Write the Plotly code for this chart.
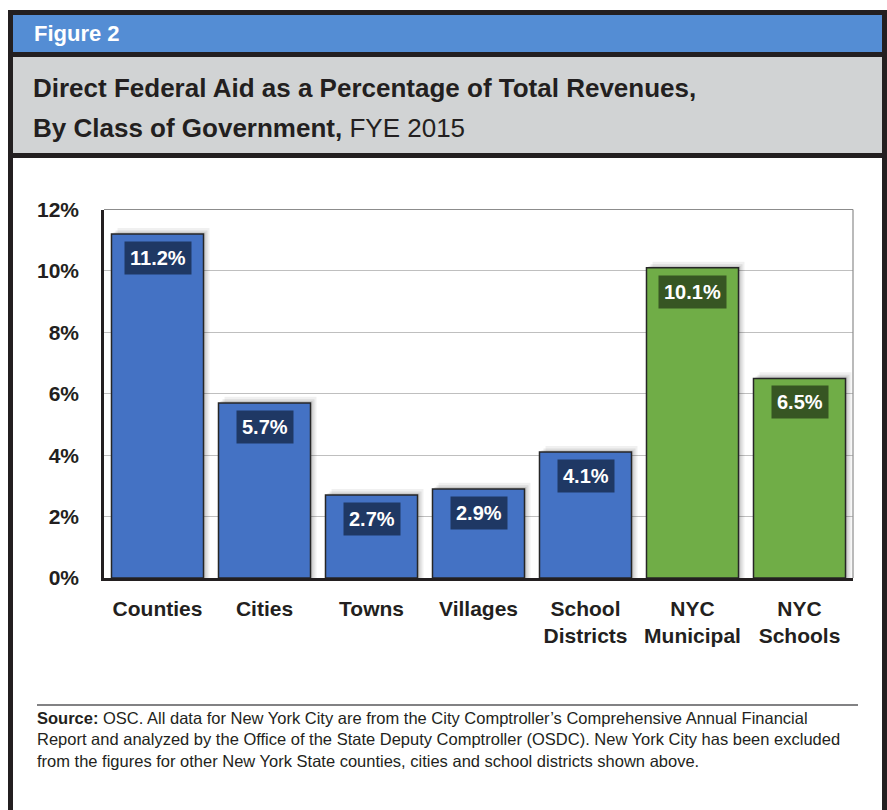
import plotly.graph_objects as go

W, H = 887, 810

categories = ["Counties", "Cities", "Towns", "Villages", "School<br>Districts", "NYC<br>Municipal", "NYC<br>Schools"]
values = [11.2, 5.7, 2.7, 2.9, 4.1, 10.1, 6.5]
groups = ["state", "state", "state", "state", "state", "nyc", "nyc"]
y_ticks = [0, 2, 4, 6, 8, 10, 12]

BAR_COLORS = {"state": "#4472C4", "nyc": "#70AD47"}
LABEL_BG = {"state": "#1F3864", "nyc": "#375623"}
TXT = "#231F20"
NARROW = "Liberation Sans Narrow, Arial Narrow, Liberation Sans, Arial, sans-serif"
SANS = "Liberation Sans, Arial, Helvetica, sans-serif"


def px(x):
    return x / W


def py(y):
    return 1 - y / H


x_idx = list(range(len(categories)))
bar_w = 0.86

fig = go.Figure()

# soft shadows behind bars
for dx, dy, a in [(6, 0.2, 0.06), (4, 0.12, 0.08), (2, 0.06, 0.10)]:
    fig.add_trace(go.Bar(
        x=x_idx, y=[v + dy for v in values], width=bar_w, offset=-bar_w / 2 + dx / 107,
        marker=dict(color=f"rgba(0,0,0,{a})", line=dict(width=0)),
        hoverinfo="skip", showlegend=False,
    ))

fig.add_trace(go.Bar(
    x=x_idx, y=values, width=bar_w, offset=-bar_w / 2,
    marker=dict(color=[BAR_COLORS[g] for g in groups], line=dict(color="#262626", width=1.5)),
    showlegend=False,
))

annotations = []
for i, (v, g) in enumerate(zip(values, groups)):
    annotations.append(dict(
        x=i, y=v, xref="x", yref="y", yanchor="top", yshift=-7,
        text=f"<b>{v:.1f}%</b>", showarrow=False,
        font=dict(family=NARROW, size=20, color="white"),
        bgcolor=LABEL_BG[g], borderpad=5,
    ))

# header texts
annotations.append(dict(
    x=px(32), y=py(34), xref="paper", yref="paper", xanchor="left", yanchor="middle",
    text="<b>Figure 2</b>", showarrow=False,
    font=dict(family=NARROW, size=22, color="white"),
))
annotations.append(dict(
    x=px(31), y=py(88), xref="paper", yref="paper", xanchor="left", yanchor="middle",
    text="<b>Direct Federal Aid as a Percentage of Total Revenues,</b>", showarrow=False,
    font=dict(family=NARROW, size=26, color=TXT),
))
annotations.append(dict(
    x=px(31), y=py(128), xref="paper", yref="paper", xanchor="left", yanchor="middle",
    text="<b>By Class of Government,</b> FYE 2015", showarrow=False,
    font=dict(family=NARROW, size=26, color=TXT),
))

# source note
annotations.append(dict(
    x=px(35), y=py(707), xref="paper", yref="paper", xanchor="left", yanchor="top",
    align="left",
    text=("<b>Source:</b> OSC. All data for New York City are from the City Comptroller\u2019s Comprehensive Annual Financial<br>"
          "Report and analyzed by the Office of the State Deputy Comptroller (OSDC). New York City has been excluded<br>"
          "from the figures for other New York State counties, cities and school districts shown above."),
    showarrow=False,
    font=dict(family=SANS, size=16.5, color=TXT),
))

shapes = [
    # outer black frame (open bottom)
    dict(type="rect", xref="paper", yref="paper", x0=px(8), x1=px(887), y0=py(830), y1=py(10),
         fillcolor=TXT, line=dict(width=0), layer="below"),
    dict(type="rect", xref="paper", yref="paper", x0=px(13), x1=px(882), y0=py(830), y1=py(158),
         fillcolor="white", line=dict(width=0), layer="below"),
    # blue header band
    dict(type="rect", xref="paper", yref="paper", x0=px(13), x1=px(882), y0=py(52), y1=py(15),
         fillcolor="#548DD4", line=dict(width=0), layer="below"),
    # gray title band
    dict(type="rect", xref="paper", yref="paper", x0=px(13), x1=px(882), y0=py(153), y1=py(57),
         fillcolor="#D1D3D4", line=dict(width=0), layer="below"),
    # plot frame top & right (gray)
    dict(type="line", xref="paper", yref="paper", x0=px(104), x1=px(853), y0=py(209.5), y1=py(209.5),
         line=dict(color="#8C8C8C", width=1.2)),
    dict(type="line", xref="paper", yref="paper", x0=px(853), x1=px(853), y0=py(209.5), y1=py(578),
         line=dict(color="#8C8C8C", width=1.2)),
    # source rule
    dict(type="line", xref="paper", yref="paper", x0=px(37), x1=px(858), y0=py(705), y1=py(705),
         line=dict(color="#58595B", width=1.5)),
]

fig.update_layout(
    template="none",
    width=W, height=H,
    margin=dict(l=0, r=0, t=0, b=0, pad=0),
    paper_bgcolor="white", plot_bgcolor="rgba(0,0,0,0)",
    barmode="overlay",
    shapes=shapes, annotations=annotations,
    xaxis=dict(
        domain=[px(104), px(853)], range=[-0.5, len(categories) - 0.5], automargin=False,
        tickmode="array", tickvals=x_idx, ticktext=categories,
        tickfont=dict(family=NARROW, size=21, color=TXT, weight="bold"),
        ticks="outside", ticklen=10, tickcolor="rgba(0,0,0,0)",
        showline=True, linecolor=TXT, linewidth=2.5, showgrid=False, zeroline=False,
        fixedrange=True,
    ),
    yaxis=dict(
        domain=[py(578), py(209.5)], range=[0, 12], automargin=False,
        tickmode="array", tickvals=y_ticks, ticktext=[f"{t}%" for t in y_ticks],
        tickfont=dict(family=NARROW, size=21, color=TXT, weight="bold"),
        ticks="outside", ticklen=18, tickcolor="rgba(0,0,0,0)",
        showline=True, linecolor=TXT, linewidth=2.5,
        showgrid=True, gridcolor="#BFBFBF", gridwidth=1, zeroline=False,
        fixedrange=True,
    ),
)

fig.write_html("out.html")
